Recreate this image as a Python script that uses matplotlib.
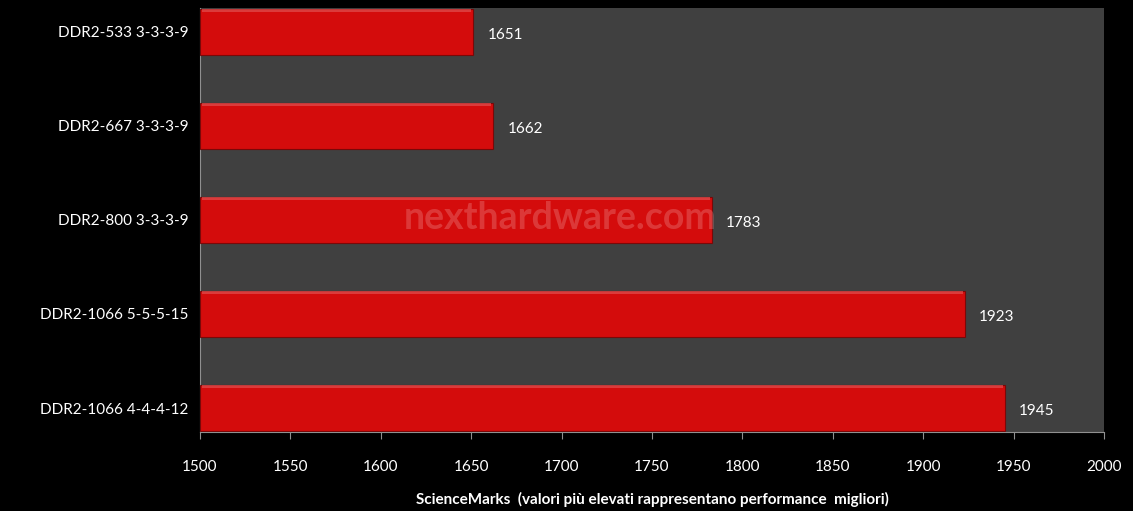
import matplotlib.pyplot as plt

# Dati
labels = ['DDR2-533 3-3-3-9', 'DDR2-667 3-3-3-9', 'DDR2-800 3-3-3-9',
          'DDR2-1066 5-5-5-15', 'DDR2-1066 4-4-4-12']
values = [1651, 1662, 1783, 1923, 1945]
xticks = [1500, 1550, 1600, 1650, 1700, 1750, 1800, 1850, 1900, 1950, 2000]

plt.rcParams['font.family'] = ['Lato', 'DejaVu Sans']

fig = plt.figure(figsize=(11.33, 5.11), dpi=100, facecolor='black')
ax = fig.add_axes([0.1765, 0.1546, 0.7979, 0.8294])
ax.set_facecolor('#404040')

pos = list(range(len(labels)))
ax.barh(pos, [v - 1500 for v in values], left=1500, height=0.49,
        color='#d40c0c', edgecolor='#7a0808', linewidth=0.8, zorder=3)
# riflesso sul bordo superiore
ax.barh([p - 0.225 for p in pos], [v - 1502 for v in values], left=1501,
        height=0.03, color='#e05050', alpha=0.7, linewidth=0, zorder=4)

for p, v in zip(pos, values):
    ax.text(v + 8, p + 0.03, str(v), color='white', fontsize=11,
            va='center', ha='left')

ax.set_xlim(1500, 2000)
ax.set_ylim(4.255, -0.25)
ax.set_xticks(xticks)
ax.set_yticks(pos)
ax.set_yticklabels(labels)
ax.tick_params(axis='x', colors='#909090', labelcolor='white', labelsize=11,
               length=5, direction='out', pad=15)
ax.tick_params(axis='y', length=0, labelcolor='white', labelsize=11, pad=8)

for s in ['top', 'right']:
    ax.spines[s].set_visible(False)
for s in ['left', 'bottom']:
    ax.spines[s].set_color('#909090')

ax.set_xlabel('ScienceMarks  (valori più elevati rappresentano performance  migliori)',
              color='white', fontsize=11, fontweight='bold', labelpad=13)

ax.text(0.398, 0.505, 'nexthardware.com', transform=ax.transAxes,
        ha='center', va='center', fontsize=27, fontweight='bold',
        color='#f0a0a0', alpha=0.3, zorder=5)

fig.savefig('out.png', dpi=100, facecolor='black')
